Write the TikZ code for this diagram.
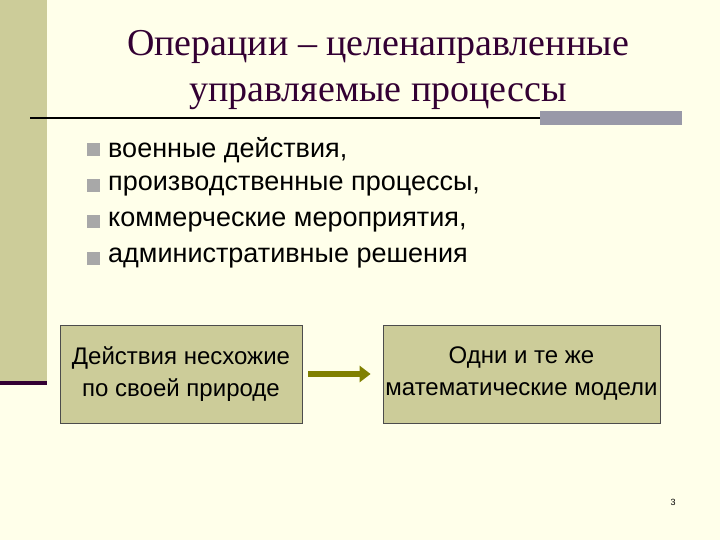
\documentclass[tikz,border=0pt]{standalone}
\usepackage{fontspec}
\setmainfont{Liberation Sans}
\newfontfamily\titlefont{Liberation Serif}
\usetikzlibrary{arrows.meta}
\definecolor{bg}{HTML}{FFFFEA}
\definecolor{olivebox}{HTML}{CCCC99}
\definecolor{darkpurple}{HTML}{330033}
\definecolor{graybar}{HTML}{9999A8}
\definecolor{bulletgray}{HTML}{A8A8A8}
\definecolor{arrowolive}{HTML}{808000}
\tikzset{
  bul/.style={fill=bulletgray,minimum size=13pt,inner sep=0pt},
  item/.style={anchor=west,font=\fontsize{27}{30}\selectfont,inner sep=0pt},
  bbox/.style={draw=black!70,fill=olivebox,line width=0.8pt,align=center,font=\fontsize{24}{32}\selectfont},
}
\begin{document}
\begin{tikzpicture}[x=1pt,y=-1pt]
\fill[bg] (0,0) rectangle (720,540);
\useasboundingbox (0,0) rectangle (720,540);
\fill[olivebox] (0,0) rectangle (47,383);
\fill[darkpurple] (0,381) rectangle (47,385);
\fill[graybar] (540,111) rectangle (682,125);
\draw[line width=1.6pt] (30,118) -- (540,118);
\node[font=\titlefont\fontsize{38}{46}\selectfont,text=darkpurple,align=center] (title) at (378,70) {Операции – целенаправленные\\управляемые процессы};
\node[bul] (b1) at (93,150) {};
\node[item] (t1) at (108,150) {военные действия,};
\node[bul] (b2) at (93,186) {};
\node[item] (t2) at (108,186) {производственные процессы,};
\node[bul] (b3) at (93,222) {};
\node[item] (t3) at (108,222) {коммерческие мероприятия,};
\node[bul] (b4) at (93,258) {};
\node[item] (t4) at (108,258) {административные решения};
\node[bbox,minimum width=242pt,minimum height=98pt] (box1) at (181,374) {Действия несхожие\\по своей природе};
\node[bbox,minimum width=277pt,minimum height=98pt,inner sep=1pt] (box2) at (521.5,374) {Одни и те же\\математические модели};
\draw[arrowolive,line width=6pt,-{Triangle[length=11pt,width=16pt]}] ([xshift=6pt]box1.east) -- ([xshift=-12pt]box2.west);
\node[font=\fontsize{9}{10}\selectfont] (pg) at (673,502) {3};
\end{tikzpicture}
\end{document}
